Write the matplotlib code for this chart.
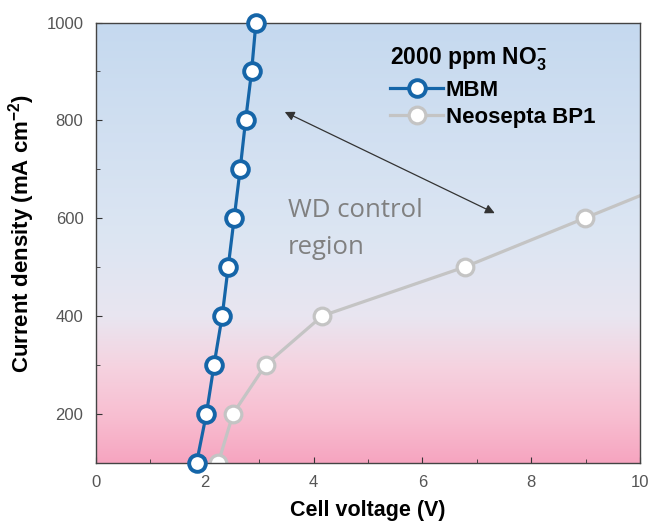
import numpy as np
import matplotlib
matplotlib.use('Agg')
import matplotlib.pyplot as plt
from matplotlib.colors import LinearSegmentedColormap

plt.rcParams['font.family'] = ['Liberation Sans', 'DejaVu Sans']
plt.rcParams['mathtext.fontset'] = 'custom'
plt.rcParams['mathtext.rm'] = 'Liberation Sans'
plt.rcParams['mathtext.bf'] = 'Liberation Sans:bold'
plt.rcParams['mathtext.default'] = 'regular'

# data
mbm_v = [1.85, 2.03, 2.17, 2.32, 2.43, 2.54, 2.65, 2.75, 2.86, 2.94]
mbm_j = [100, 200, 300, 400, 500, 600, 700, 800, 900, 1000]
bp1_v = [2.25, 2.52, 3.12, 4.16, 6.78, 8.99, 11.2]
bp1_j = [100, 200, 300, 400, 500, 600, 700]

fig = plt.figure(figsize=(6.52, 5.23), dpi=100)
ax = fig.add_axes([96/652, 1-462.5/523, 544/652, 440/523])

# background gradient pink -> white -> blue
cmap = LinearSegmentedColormap.from_list('bg', [
    (0.0, '#f6a5c0'), (0.1, '#f8bdd0'), (0.22, '#f5d3e0'),
    (0.33, '#e9e5f0'), (0.5, '#dde6f3'), (1.0, '#c5d9ef')])
grad = np.linspace(0, 1, 256).reshape(-1, 1)
ax.imshow(grad, cmap=cmap, aspect='auto', origin='lower',
          extent=[0, 10, 100, 1000], zorder=0)

ax.plot(bp1_v, bp1_j, '-o', color='#c4c4c4', lw=2.3, ms=12, mfc='white',
        mec='#c4c4c4', mew=2.3, label='Neosepta BP1', zorder=2)
ax.plot(mbm_v, mbm_j, '-o', color='#1565a8', lw=2.3, ms=12, mfc='white',
        mec='#1565a8', mew=2.8, label='MBM', zorder=3, clip_on=False)

ax.annotate('', xy=(3.47, 817), xytext=(7.33, 610),
            arrowprops=dict(arrowstyle='<|-|>', color='#333333', lw=0.9,
                            mutation_scale=14, shrinkA=0, shrinkB=0))
ax.text(3.53, 578, 'WD control\nregion', color='#808080', fontsize=18.5,
        family='Open Sans', va='center', ha='left', linespacing=1.6)

ax.set_xlim(0, 10)
ax.set_ylim(100, 1000)
ax.set_xticks([0, 2, 4, 6, 8, 10])
ax.set_xticks([1, 3, 5, 7, 9], minor=True)
ax.set_yticks([200, 400, 600, 800, 1000])
ax.set_yticks([300, 500, 700, 900], minor=True)
ax.tick_params(which='both', direction='in', labelsize=12, labelcolor='#555555',
               color='#333333', pad=9)
ax.tick_params(which='major', length=4)
ax.tick_params(which='minor', length=3)
for s in ax.spines.values():
    s.set_color('#444444')
    s.set_linewidth(1)

ax.set_xlabel('Cell voltage (V)', fontsize=15.5, fontweight='bold', labelpad=7)
ax.set_ylabel('Current density (mA cm$^{-2}$)', fontsize=16, fontweight='bold')
ax.yaxis.set_label_coords(-0.108, 0.52)

h, l = ax.get_legend_handles_labels()
leg = ax.legend(h[::-1], l[::-1], title='2000 ppm NO$_3^{-}$', loc='upper left',
                bbox_to_anchor=(0.512, 0.983), frameon=False, handlelength=2.4,
                handletextpad=0.1, labelspacing=0.25, borderpad=0.2,
                alignment='left', prop={'weight': 'bold', 'size': 16})
leg.get_title().set_fontweight('bold')
leg.get_title().set_fontsize(16.5)
leg._legend_box.sep = 5

fig.savefig('out.png', dpi=100)
